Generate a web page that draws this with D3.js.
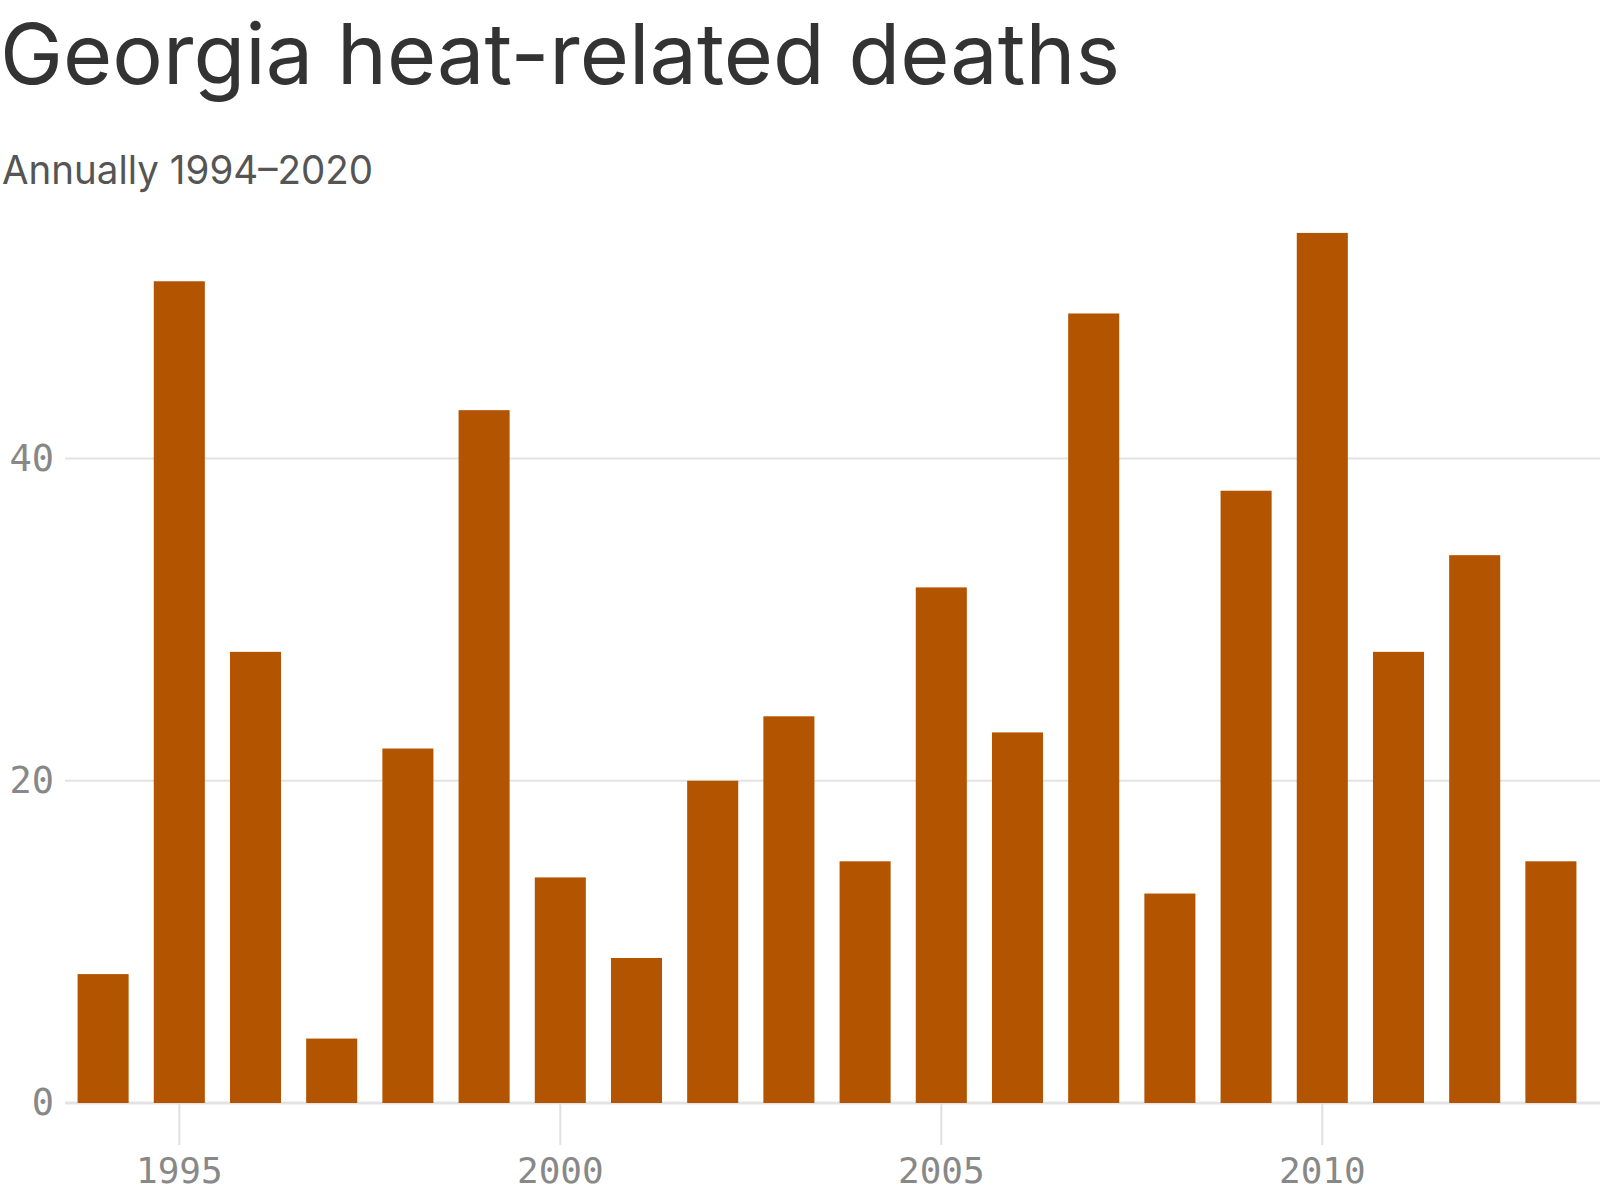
<!DOCTYPE html>
<html><head><meta charset="utf-8">
<script src="https://cdn.jsdelivr.net/npm/d3@7"></script>
<style>
html,body{margin:0;padding:0;background:#fff;}
svg{display:block;}
</style></head>
<body>
<svg id="chart" width="1600" height="1200"></svg>
<script>
const title = "Georgia heat-related deaths";
const subtitle = "Annually 1994–2020";
const years = [1994,1995,1996,1997,1998,1999,2000,2001,2002,2003,2004,2005,2006,2007,2008,2009,2010,2011,2012,2013];
const deaths = [8,51,28,4,22,43,14,9,20,24,15,32,23,49,13,38,54,28,34,15];
const yTicks = [0,20,40];
const xTicks = [1995,2000,2005,2010];

const svg = d3.select("#chart");
const W = 1600;
const left = 65;
const step = 76.2;
const x = d3.scaleBand().domain(years).range([left, left + step*years.length]).paddingInner(0.33).paddingOuter(0.165);
const y = d3.scaleLinear().domain([0, 40]).range([1103, 458.5]);

// title
svg.append("text").attr("x", 0).attr("y", 84)
  .attr("font-family","Inter, 'Noto Sans', sans-serif").attr("font-size", 84)
  .attr("fill","#333").attr("textLength", 1120).attr("lengthAdjust","spacingAndGlyphs")
  .text(title);
svg.append("text").attr("x", 2).attr("y", 184)
  .attr("font-family","Inter, 'Noto Sans', sans-serif").attr("font-size", 40)
  .attr("fill","#555").attr("textLength", 371).attr("lengthAdjust","spacingAndGlyphs")
  .text(subtitle);

// grid
const grid = svg.append("g");
grid.selectAll("line").data(yTicks).join("line")
  .attr("x1", left).attr("x2", W)
  .attr("y1", d => y(d)).attr("y2", d => y(d))
  .attr("stroke", "#e3e3e3").attr("stroke-width", d => d === 0 ? 3 : 2);

// x ticks
const xAxis = d3.axisBottom(x).tickValues(xTicks).tickSize(42).tickPadding(6);
const gx = svg.append("g").attr("transform", `translate(0,${y(0)})`).call(xAxis);
gx.select(".domain").remove();
gx.selectAll(".tick line").attr("stroke","#e0e0e0").attr("stroke-width",2);
gx.selectAll(".tick text").attr("font-family","'DejaVu Sans Mono', monospace").attr("font-size",36)
  .attr("fill","#888").attr("dy", "0.9em");

// y labels
const yAxis = d3.axisLeft(y).tickValues(yTicks).tickSize(0).tickPadding(0);
const gy = svg.append("g").attr("transform", `translate(54,0)`).call(yAxis);
gy.select(".domain").remove();
gy.selectAll(".tick text").attr("font-family","'DejaVu Sans Mono', monospace").attr("font-size",37)
  .attr("fill","#888");

// bars
svg.append("g").selectAll("rect").data(years).join("rect")
  .attr("x", d => x(d)).attr("width", x.bandwidth())
  .attr("y", (d,i) => y(deaths[i])).attr("height", (d,i) => y(0) - y(deaths[i]))
  .attr("fill", "#b35400");
</script>
</body></html>
